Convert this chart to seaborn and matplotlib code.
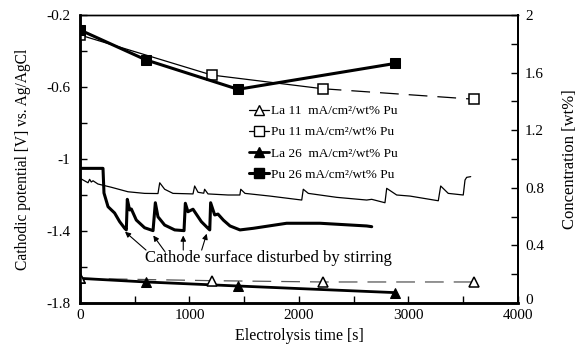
import numpy as np
import pandas as pd
import matplotlib
matplotlib.use("Agg")
import matplotlib.pyplot as plt
import matplotlib.transforms as mtransforms
import seaborn as sns
from matplotlib.lines import Line2D
from matplotlib.ticker import FixedLocator, MultipleLocator

# ---------------- data ----------------
# Cathodic potential, 11 mA/cm2/wt% Pu (thin line)
t_11 = [0, 73, 88, 103, 119, 164, 286, 438, 590, 712, 728, 773, 849, 1032, 1047, 1078,
        1130, 1138, 1169, 1352, 1460, 1468, 1507, 1735, 2025, 2039, 2085, 2344, 2618,
        2664, 2785, 2801, 2892, 3014, 3272, 3294, 3363, 3500, 3516, 3531, 3568]
v_11 = [-1.107, -1.132, -1.113, -1.128, -1.121, -1.139, -1.157, -1.182, -1.191, -1.192,
        -1.132, -1.168, -1.191, -1.194, -1.150, -1.185, -1.190, -1.168, -1.194, -1.200,
        -1.200, -1.168, -1.191, -1.206, -1.228, -1.168, -1.191, -1.213, -1.228, -1.224,
        -1.243, -1.163, -1.200, -1.206, -1.232, -1.150, -1.191, -1.200, -1.117, -1.102,
        -1.098]

# Cathodic potential, 26 mA/cm2/wt% Pu (thick line)
t_26 = [0, 210, 219, 256, 316, 362, 408, 423, 432, 453, 469, 514, 590, 667, 688, 712,
        773, 865, 950, 962, 986, 1032, 1108, 1169, 1185, 1193, 1230, 1260, 1310, 1370,
        1461, 1583, 1887, 2192, 2618, 2664]
v_26 = [-1.052, -1.052, -1.189, -1.265, -1.300, -1.348, -1.385, -1.394, -1.224, -1.283,
        -1.278, -1.339, -1.382, -1.398, -1.243, -1.321, -1.367, -1.394, -1.398, -1.246,
        -1.293, -1.279, -1.348, -1.385, -1.394, -1.243, -1.311, -1.306, -1.340, -1.372,
        -1.394, -1.385, -1.357, -1.357, -1.372, -1.376]

# Concentrations [wt%]
t_la11 = [0, 1203, 2216, 3600]
c_la11 = [0.171, 0.155, 0.146, 0.146]
t_pu11 = [0, 1203, 2216, 3600]
c_pu11 = [1.861, 1.583, 1.488, 1.415]
t_la26 = [0, 603, 1443, 2880]
c_la26 = [0.171, 0.146, 0.118, 0.072]
t_pu26 = [0, 603, 1443, 2880]
c_pu26 = [1.896, 1.688, 1.484, 1.664]

labels = ["La 11  mA/cm\u00b2/wt% Pu", "Pu 11 mA/cm\u00b2/wt% Pu",
          "La 26  mA/cm\u00b2/wt% Pu", "Pu 26 mA/cm\u00b2/wt% Pu"]

# arrow tips (time, potential) and tails
arrow_tips = [(411, -1.404), (669, -1.425), (943, -1.425), (1157, -1.415)]
arrow_tails = [(603, -1.506), (776, -1.515), (943, -1.506), (1111, -1.506)]

# ---------------- style ----------------
sns.set_theme(style="white")
plt.rcParams["font.family"] = ["Liberation Serif", "DejaVu Serif"]
plt.rcParams["axes.unicode_minus"] = False

fig = plt.figure(figsize=(5.8, 3.54), dpi=100)
ax = fig.add_axes([80 / 580, 1 - 303 / 354, 438 / 580, 288 / 354])
ax2 = ax.twinx()

# potential curves
sns.lineplot(x=t_11, y=v_11, ax=ax, color="black", lw=0.9, sort=False, estimator=None)
sns.lineplot(x=t_26, y=v_26, ax=ax, color="black", lw=2.2, sort=False, estimator=None)

ax.set_xlim(0, 4000)
ax.set_ylim(-1.8, -0.2)
ax.yaxis.set_major_locator(FixedLocator([-1.8, -1.4, -1.0, -0.6, -0.2]))
ax.set_yticklabels(["-1.8", "-1.4", "-1", "-0.6", "-0.2"])
ax.yaxis.set_minor_locator(MultipleLocator(0.2))
ax.xaxis.set_major_locator(FixedLocator([0, 1000, 2000, 3000, 4000]))
ax.xaxis.set_minor_locator(MultipleLocator(500))
ax.set_xticklabels(["0", "1000", "2000", "3000", "4000"])

# concentration series
ms = 7
dash = (0, (15, 8))
sns.lineplot(x=t_la11, y=c_la11, ax=ax2, color="#555555", lw=0.9,
             sort=False, estimator=None)
ax2.lines[-1].set_linestyle(dash)
sns.lineplot(x=t_la26, y=c_la26, ax=ax2, color="black", lw=2.0, marker="^",
             markersize=ms, markerfacecolor="black", markeredgecolor="black",
             sort=False, estimator=None)
sns.lineplot(x=t_la11, y=c_la11, ax=ax2, color="black", lw=0, marker="^",
             markersize=ms, markerfacecolor="white", markeredgecolor="black",
             markeredgewidth=1.1, sort=False, estimator=None)
sns.lineplot(x=t_pu11[:3], y=c_pu11[:3], ax=ax2, color="black", lw=0.9,
             sort=False, estimator=None)
sns.lineplot(x=t_pu11[2:], y=c_pu11[2:], ax=ax2, color="black", lw=0.9,
             sort=False, estimator=None)
ax2.lines[-1].set_linestyle(dash)
sns.lineplot(x=t_pu11, y=c_pu11, ax=ax2, color="black", lw=0, marker="s",
             markersize=ms, markerfacecolor="white", markeredgecolor="black",
             markeredgewidth=1.1, sort=False, estimator=None)
sns.lineplot(x=t_pu26, y=c_pu26, ax=ax2, color="black", lw=2.2, marker="s",
             markersize=ms, markerfacecolor="black", markeredgecolor="black",
             sort=False, estimator=None)

ax2.set_ylim(0, 2)
ax2.yaxis.set_major_locator(FixedLocator([0, 0.4, 0.8, 1.2, 1.6, 2.0]))
ax2.set_yticklabels(["0", "0.4", "0.8", "1.2", "1.6", "2"])
ax2.yaxis.set_minor_locator(MultipleLocator(0.2))

# ticks & spines
for a in (ax, ax2):
    a.tick_params(which="both", direction="in", colors="black", labelsize=11,
                  labelcolor="black")
    a.tick_params(which="major", length=5, width=1)
    a.tick_params(which="minor", length=5, width=1)
    for s in a.spines.values():
        s.set_color("black")
    a.spines["left"].set_linewidth(1.8)
    a.spines["bottom"].set_linewidth(1.8)
    a.spines["right"].set_linewidth(1.4)
    a.spines["top"].set_linewidth(1.0)
ax.tick_params(axis="y", which="both", right=False, left=True, pad=7)
ax.tick_params(axis="x", which="both", bottom=True, top=False, pad=4)
ax2.tick_params(axis="y", which="both", right=True, left=False, pad=5)

# raise the right-axis "0" label a little so it does not touch "4000"
fig.canvas.draw()
for lab in ax2.get_yticklabels():
    if lab.get_text() == "0":
        lab.set_transform(lab.get_transform() +
                          mtransforms.ScaledTranslation(0, 4 / 100, fig.dpi_scale_trans))

ax.set_xlabel("Electrolysis time [s]", fontsize=11.5, color="black", labelpad=5)
ax.set_ylabel("Cathodic potential [V] vs. Ag/AgCl", fontsize=11.2, color="black",
              labelpad=11)
ax2.set_ylabel("Concentration [wt%]", fontsize=12, color="black", labelpad=13)

# annotation
ax.text(1720, -1.55, "Cathode surface disturbed by stirring", fontsize=12,
        ha="center", va="center", color="black")
for tip, tail in zip(arrow_tips, arrow_tails):
    ax.annotate("", xy=tip, xytext=tail,
                arrowprops=dict(arrowstyle="-|>", color="black", lw=0.8,
                                mutation_scale=8, shrinkA=0, shrinkB=0))

# legend
handles = [
    Line2D([], [], color="black", lw=0.9, marker="^", markersize=ms,
           markerfacecolor="white", markeredgecolor="black"),
    Line2D([], [], color="black", lw=0.9, marker="s", markersize=ms,
           markerfacecolor="white", markeredgecolor="black"),
    Line2D([], [], color="black", lw=2.0, marker="^", markersize=ms,
           markerfacecolor="black", markeredgecolor="black"),
    Line2D([], [], color="black", lw=2.2, marker="s", markersize=ms,
           markerfacecolor="black", markeredgecolor="black"),
]
leg = ax2.legend(handles, labels, loc="upper left",
                 bbox_to_anchor=(249 / 580, 1 - 105 / 354),
                 bbox_transform=fig.transFigure, frameon=False, fontsize=9.5,
                 handlelength=1.5, handletextpad=0.2, labelspacing=0.68,
                 borderpad=0, borderaxespad=0)
for txt in leg.get_texts():
    txt.set_color("black")

fig.savefig("out.png", dpi=100)
